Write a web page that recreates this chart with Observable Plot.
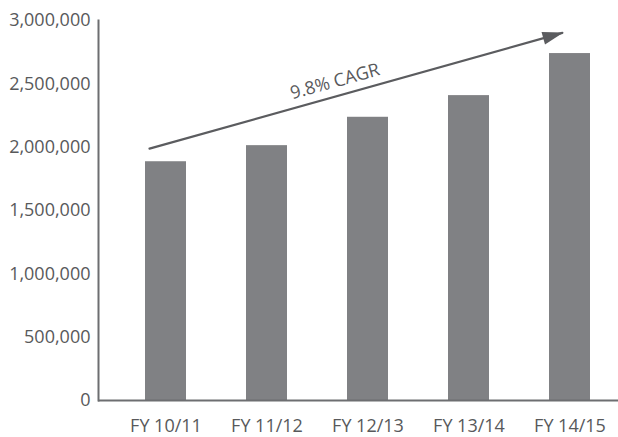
<!DOCTYPE html>
<html><head><meta charset="utf-8">
<script src="https://cdn.jsdelivr.net/npm/d3@7"></script>
<script src="https://cdn.jsdelivr.net/npm/@observablehq/plot@0.6"></script>
<style>body{margin:0;background:#fff}</style>
</head><body><div id="chart"></div>
<script>
const categories = ["FY 10/11", "FY 11/12", "FY 12/13", "FY 13/14", "FY 14/15"];
const values = [1885000, 2012000, 2236000, 2407000, 2739000];
const yTicks = [0, 500000, 1000000, 1500000, 2000000, 2500000, 3000000];
const cagrLabel = "9.8% CAGR";
const cagrStart = ["FY 10/11", 2024500];
const cagrEnd = ["FY 14/15", 2919000];
const cagrTip = ["FY 14/15", 2905000];
const cagrLabelPos = ["FY 12/13", 2518000];

const data = categories.map((c, i) => ({category: c, value: values[i]}));

const headSymbol = {
  draw(context) {
    context.moveTo(0, 0);
    context.lineTo(6.5, 21);
    context.lineTo(-6.5, 21);
    context.closePath();
  }
};

const textColor = "#58595b";
const chart = Plot.plot({
  width: 618,
  height: 437,
  marginLeft: 98,
  marginRight: 0,
  marginTop: 20,
  marginBottom: 37,
  style: {fontFamily: "'Open Sans', sans-serif", fontSize: "18px", color: textColor, background: "#fff"},
  x: {type: "band", domain: categories, range: [98, 636], paddingInner: 0.597, paddingOuter: 0.442, label: null},
  y: {domain: [0, 3000000], label: null},
  marks: [
    Plot.barY(data, {x: "category", y: "value", fill: "#808184"}),
    Plot.axisY({ticks: yTicks, tickFormat: d3.format(","), tickSize: 0, tickPadding: 8, fill: textColor, fontSize: 18, label: null}),
    Plot.axisX({tickSize: 0, tickPadding: 19, fill: textColor, fontSize: 18, label: null}),
    Plot.ruleY([0], {stroke: "#6d6e71", strokeWidth: 2}),
    Plot.frame({anchor: "left", stroke: "#6d6e71", strokeWidth: 2}),
    Plot.arrow([{x1: cagrStart[0], y1: cagrStart[1], x2: cagrEnd[0], y2: cagrEnd[1]}], {
      x1: "x1", y1: "y1", x2: "x2", y2: "y2",
      stroke: "#5b5c5f", strokeWidth: 2.2, headLength: 0,
      insetStart: -17.1, insetEnd: 8
    }),
    Plot.dot([cagrTip], {x: d => d[0], y: d => d[1], dx: -6.5, symbol: headSymbol, r: 5, fill: "#5b5c5f", stroke: "none", rotate: 74.5}),
    Plot.text([cagrLabelPos], {x: d => d[0], y: d => d[1], dx: -33, text: () => cagrLabel, rotate: -15.5, fontSize: 18, fill: textColor, textAnchor: "middle", lineAnchor: "middle"})
  ]
});
document.getElementById("chart").appendChild(chart);
</script>
</body></html>
